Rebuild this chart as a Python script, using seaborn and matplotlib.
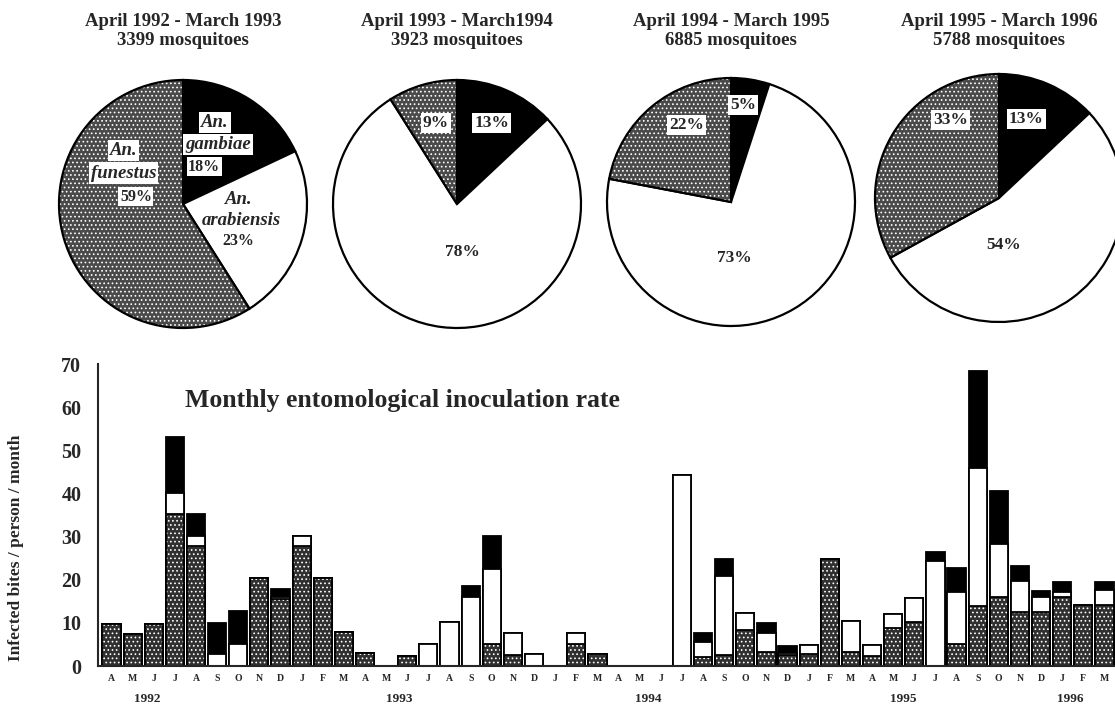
import numpy as np
import pandas as pd
import matplotlib
matplotlib.use("Agg")
import matplotlib.pyplot as plt
import seaborn as sns

# ---------------- data ----------------
period_titles = ["April 1992 - March 1993", "April 1993 - March1994",
                 "April 1994 - March 1995", "April 1995 - March 1996"]
mosquito_counts = ["3399 mosquitoes", "3923 mosquitoes", "6885 mosquitoes", "5788 mosquitoes"]
# pie shares: gambiae, arabiensis, funestus (%)
pie_gambiae = [18, 13, 5, 13]
pie_arabiensis = [23, 78, 73, 54]
pie_funestus = [59, 9, 22, 33]

month_labels = ["A", "M", "J", "J", "A", "S", "O", "N", "D", "J", "F", "M",
                "A", "M", "J", "J", "A", "S", "O", "N", "D", "J", "F", "M",
                "A", "M", "J", "J", "A", "S", "O", "N", "D", "J", "F", "M",
                "A", "M", "J", "J", "A", "S", "O", "N", "D", "J", "F", "M"]
year_labels = ["1992", "1993", "1994", "1995", "1996"]
year_pos = [1.7, 13.6, 25.4, 37.5, 45.4]

# monthly EIR by species (infected bites / person / month)
eir_funestus = [9.8, 7.5, 9.8, 35.3, 27.7, 0.0, 0.0, 20.3, 15.6, 27.7, 20.4, 7.8,
                2.9, 0.0, 2.4, 0.0, 0.0, 0.0, 5.2, 2.5, 0.0, 0.0, 5.2, 2.7,
                0.0, 0.0, 0.0, 0.0, 2.0, 2.5, 8.3, 3.2, 2.6, 2.7, 24.7, 3.3,
                2.4, 8.7, 10.3, 0.0, 5.1, 13.9, 16.1, 12.6, 12.6, 16.1, 14.1, 14.1]
eir_arabiensis = [0.0, 0.0, 0.0, 4.7, 2.4, 2.8, 5.0, 0.0, 0.3, 2.5, 0.0, 0.0,
                  0.0, 0.0, 0.0, 5.0, 10.3, 16.0, 17.2, 5.2, 2.8, 0.0, 2.5, 0.0,
                  0.0, 0.0, 0.0, 44.3, 3.5, 18.3, 4.0, 4.5, 0.3, 2.2, 0.0, 7.1,
                  2.5, 3.3, 5.5, 24.3, 12.1, 31.9, 12.1, 7.0, 3.5, 1.1, 0.0, 3.5]
eir_gambiae = [0.0, 0.0, 0.0, 13.0, 5.1, 7.1, 7.7, 0.0, 1.9, 0.0, 0.0, 0.0,
               0.0, 0.0, 0.0, 0.0, 0.0, 2.5, 7.8, 0.0, 0.0, 0.0, 0.0, 0.0,
               0.0, 0.0, 0.0, 0.0, 2.1, 4.0, 0.0, 2.2, 1.8, 0.0, 0.0, 0.0,
               0.0, 0.0, 0.0, 2.1, 5.6, 22.6, 12.4, 3.6, 1.3, 2.2, 0.0, 1.8]

# ---------------- style ----------------
sns.set_style("white")
plt.rcParams["font.family"] = ["Liberation Serif", "DejaVu Serif"]
plt.rcParams["font.weight"] = "bold"
plt.rcParams["hatch.linewidth"] = 0.7

GRAY = "#303030"
HATCH = "...."
W, H = 1115, 709

fig = plt.figure(figsize=(W / 100, H / 100), dpi=100)
fig.patch.set_facecolor("white")


def frac_axes(x0, y0, w, h):
    """pixel box (top-left origin) -> figure axes"""
    return fig.add_axes([x0 / W, 1 - (y0 + h) / H, w / W, h / H])


def white_hatch(patch):
    patch.set_hatch(HATCH)
    if hasattr(patch, "set_hatchcolor"):
        patch.set_hatchcolor("white")
    else:
        patch._hatch_color = (1, 1, 1, 1)


# ---------------- pies ----------------
pie_cx = [183, 457, 731, 999]
pie_cy = [204, 204, 202, 198]
R = 124
lab_style = dict(ha="center", va="center", fontsize=12.5, fontweight="bold",
                 bbox=dict(facecolor="white", edgecolor="none", pad=1.5))
pie_labels = [
    [],
    [("9%", -0.17, 0.65, True), ("13%", 0.28, 0.65, True), ("78%", 0.04, -0.39, False)],
    [("22%", -0.36, 0.62, True), ("5%", 0.10, 0.78, True), ("73%", 0.03, -0.45, False)],
    [("33%", -0.39, 0.63, True), ("13%", 0.22, 0.64, True), ("54%", 0.04, -0.38, False)],
]
for i in range(4):
    pad = 1.03
    ax = frac_axes(pie_cx[i] - R * pad, pie_cy[i] - R * pad, 2 * R * pad, 2 * R * pad)
    vals = [pie_gambiae[i], pie_arabiensis[i], pie_funestus[i]]
    wedges, _ = ax.pie(vals, colors=["black", "white", "#4a4a4a"], startangle=90,
                       counterclock=False, radius=1.0,
                       wedgeprops=dict(edgecolor="black", linewidth=1.6))
    white_hatch(wedges[2])
    ax.set_xlim(-pad, pad)
    ax.set_ylim(-pad, pad)
    ax.set_aspect("auto")
    ax.axis("off")
    for t, dx, dy, boxed in pie_labels[i]:
        kw = dict(lab_style)
        if not boxed:
            kw.pop("bbox")
        ax.text(dx, dy, t, **kw)
    fig.text(pie_cx[i] / W, 1 - 13 / H, period_titles[i] + "\n" + mosquito_counts[i],
             ha="center", va="top", fontsize=13.5, fontweight="bold", linespacing=1.12)

# pie 1 species labels
ax1 = fig.axes[0]
box = dict(facecolor="white", edgecolor="none", pad=1.5)
ax1.text(0.26, 0.66, "An.", ha="center", va="center", fontsize=13.5,
         style="italic", fontweight="bold", bbox=box)
ax1.text(0.28, 0.48, "gambiae", ha="center", va="center", fontsize=13.5,
         style="italic", fontweight="bold", bbox=box)
ax1.text(0.17, 0.30, f"{pie_gambiae[0]}%", ha="center", va="center", fontsize=11.5,
         fontweight="bold", bbox=dict(facecolor="white", edgecolor="none", pad=1))
ax1.text(-0.48, 0.43, "An.", ha="center", va="center", fontsize=13.5,
         style="italic", fontweight="bold", bbox=box)
ax1.text(-0.48, 0.25, "funestus", ha="center", va="center", fontsize=13.5,
         style="italic", fontweight="bold", bbox=box)
ax1.text(-0.38, 0.06, f"{pie_funestus[0]}%", ha="center", va="center", fontsize=11.5,
         fontweight="bold", bbox=dict(facecolor="white", edgecolor="none", pad=1))
ax1.text(0.45, 0.04, "An.", ha="center", va="center", fontsize=13.5,
         style="italic", fontweight="bold")
ax1.text(0.47, -0.13, "arabiensis", ha="center", va="center", fontsize=13.5,
         style="italic", fontweight="bold")
ax1.text(0.45, -0.30, f"{pie_arabiensis[0]}%", ha="center", va="center", fontsize=11.5,
         fontweight="bold")

# ---------------- stacked bars ----------------
df = pd.DataFrame({
    "month": np.arange(len(month_labels)),
    "funestus": eir_funestus,
    "arabiensis": eir_arabiensis,
    "gambiae": eir_gambiae,
})
df["mid"] = df["funestus"] + df["arabiensis"]
df["total"] = df["mid"] + df["gambiae"]

axb = frac_axes(98, 364, 1017, 302)
common = dict(x="month", data=df, ax=axb, width=0.86, saturation=1,
              errorbar=None, edgecolor="black", linewidth=1.3)
sns.barplot(y="total", color="black", **common)
sns.barplot(y="mid", color="white", **common)
sns.barplot(y="funestus", color=GRAY, **common)
for p in axb.containers[-1]:
    white_hatch(p)

n = len(month_labels)
axb.set_xlim(-0.64, n - 0.53)
axb.set_ylim(0, 70)
axb.set_xlabel("")
axb.set_ylabel("")
for s in ["top", "right"]:
    axb.spines[s].set_visible(False)
axb.spines["left"].set_linewidth(1.5)
axb.spines["bottom"].set_linewidth(1.5)

axb.set_yticks(np.arange(0, 71, 10))
axb.tick_params(axis="y", direction="inout", length=12, width=1.3, labelsize=14.5, pad=6)
for lab in axb.get_yticklabels():
    lab.set_fontweight("bold")

axb.set_xticks(np.arange(n))
axb.set_xticklabels(month_labels, fontsize=7, fontweight="bold")
axb.set_xticks(np.arange(n + 1) - 0.5, minor=True)
axb.tick_params(axis="x", which="major", length=0, pad=6)
axb.tick_params(axis="x", which="minor", direction="inout", length=7, width=1.1)

trans = axb.get_xaxis_transform()
for yl, xp in zip(year_labels, year_pos):
    axb.text(xp, -0.088, yl, transform=trans, ha="center", va="top",
             fontsize=9.5, fontweight="bold")

axb.text(3.5, 61.5, "Monthly entomological inoculation rate", ha="left", va="center",
         fontsize=18.5, fontweight="bold")
fig.text(16 / W, 1 - 548 / H, "Infected bites / person / month", rotation=90,
         ha="center", va="center", fontsize=12.5, fontweight="bold")

fig.savefig("out.png", dpi=100, facecolor="white")
